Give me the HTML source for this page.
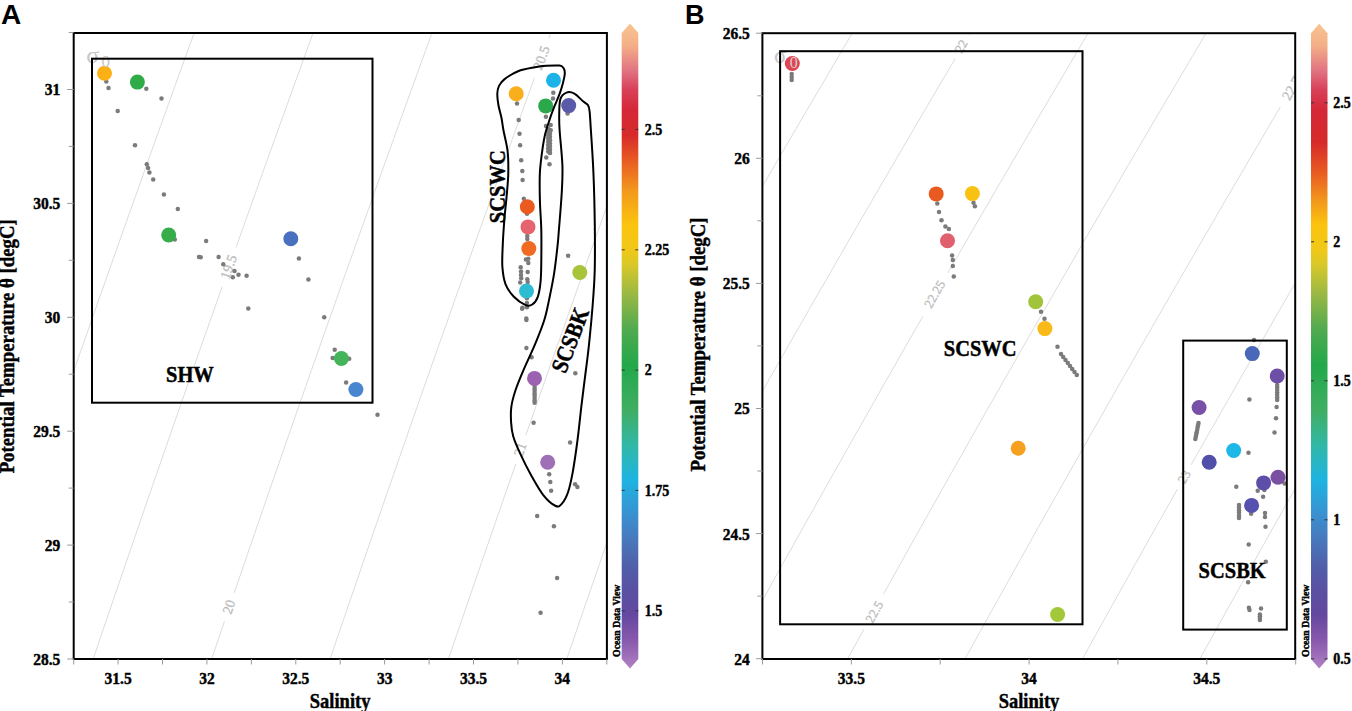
<!DOCTYPE html><html><head><meta charset="utf-8"><style>html,body{margin:0;padding:0;background:#fff;}body{width:1352px;height:711px;overflow:hidden;position:relative}svg{position:absolute;left:0;top:0}text{-webkit-font-smoothing:antialiased}</style></head><body>
<svg width="1352" height="711" viewBox="0 0 1352 711">
<defs>
<linearGradient id="gA" gradientUnits="userSpaceOnUse" x1="0" y1="23" x2="0" y2="668"><stop offset="0.0000" stop-color="#f8c490"/><stop offset="0.0341" stop-color="#f4b088"/><stop offset="0.0760" stop-color="#e07080"/><stop offset="0.1039" stop-color="#d84058"/><stop offset="0.1349" stop-color="#d42838"/><stop offset="0.1736" stop-color="#d62a2a"/><stop offset="0.2124" stop-color="#e85a22"/><stop offset="0.2620" stop-color="#f39a1c"/><stop offset="0.3132" stop-color="#fbc40e"/><stop offset="0.3519" stop-color="#f0c818"/><stop offset="0.3752" stop-color="#d8c828"/><stop offset="0.4217" stop-color="#98b844"/><stop offset="0.4760" stop-color="#50aa50"/><stop offset="0.5302" stop-color="#22a84a"/><stop offset="0.6000" stop-color="#40ae62"/><stop offset="0.6558" stop-color="#30b8a8"/><stop offset="0.7085" stop-color="#1eb4e2"/><stop offset="0.7628" stop-color="#3a90d0"/><stop offset="0.8016" stop-color="#4878bc"/><stop offset="0.8403" stop-color="#5060aa"/><stop offset="0.8791" stop-color="#5a50a2"/><stop offset="0.9178" stop-color="#6448a0"/><stop offset="0.9566" stop-color="#8858ac"/><stop offset="1.0000" stop-color="#b080c4"/></linearGradient>
<linearGradient id="gB" gradientUnits="userSpaceOnUse" x1="0" y1="23" x2="0" y2="668"><stop offset="0.0000" stop-color="#f8c490"/><stop offset="0.0341" stop-color="#f4b088"/><stop offset="0.0760" stop-color="#e07080"/><stop offset="0.1039" stop-color="#d84058"/><stop offset="0.1349" stop-color="#d42838"/><stop offset="0.1845" stop-color="#d62a2a"/><stop offset="0.2310" stop-color="#e85a22"/><stop offset="0.2775" stop-color="#f39a1c"/><stop offset="0.3132" stop-color="#fbc40e"/><stop offset="0.3519" stop-color="#f0c818"/><stop offset="0.3752" stop-color="#d8c828"/><stop offset="0.4217" stop-color="#98b844"/><stop offset="0.4760" stop-color="#50aa50"/><stop offset="0.5302" stop-color="#22a84a"/><stop offset="0.6000" stop-color="#40ae62"/><stop offset="0.6558" stop-color="#30b8a8"/><stop offset="0.7085" stop-color="#1eb4e2"/><stop offset="0.7628" stop-color="#3a90d0"/><stop offset="0.8016" stop-color="#4878bc"/><stop offset="0.8403" stop-color="#5060aa"/><stop offset="0.8791" stop-color="#5a50a2"/><stop offset="0.9178" stop-color="#6448a0"/><stop offset="0.9566" stop-color="#8858ac"/><stop offset="1.0000" stop-color="#b080c4"/></linearGradient>
<clipPath id="cA"><rect x="73.7" y="33.0" width="533.2" height="626.0"/></clipPath>
<clipPath id="cB"><rect x="762.4" y="33.2" width="532.8" height="625.8"/></clipPath>
<mask id="mA" maskUnits="userSpaceOnUse" x="0" y="0" width="1352" height="711"><rect x="0" y="0" width="1352" height="711" fill="white"/>
<rect x="207.7" y="261.0" width="42.0" height="12.0" transform="rotate(-70.5 228.7 267.0)" fill="black"/>
<rect x="214.0" y="601.0" width="30.0" height="12.0" transform="rotate(-70.5 229.0 607.0)" fill="black"/>
<rect x="520.4" y="52.0" width="42.0" height="12.0" transform="rotate(-70.5 541.4 58.0)" fill="black"/>
<rect x="505.3" y="443.5" width="30.0" height="12.0" transform="rotate(-70.5 520.3 449.5)" fill="black"/>
</mask>
<mask id="mB" maskUnits="userSpaceOnUse" x="0" y="0" width="1352" height="711"><rect x="0" y="0" width="1352" height="711" fill="white"/>
<rect x="947.1" y="40.2" width="28.0" height="12.0" transform="rotate(-60.5 961.1 46.2)" fill="black"/>
<rect x="909.5" y="288.0" width="50.0" height="12.0" transform="rotate(-60.5 934.5 294.0)" fill="black"/>
<rect x="854.3" y="605.8" width="40.0" height="12.0" transform="rotate(-60.5 874.3 611.8)" fill="black"/>
<rect x="1268.4" y="79.4" width="50.0" height="12.0" transform="rotate(-60.5 1293.4 85.4)" fill="black"/>
<rect x="1170.0" y="470.7" width="28.0" height="12.0" transform="rotate(-60.5 1184.0 476.7)" fill="black"/>
</mask>
</defs>
<g clip-path="url(#cA)"><g mask="url(#mA)" fill="none" stroke="#dcdcdc" stroke-width="1.0">
<polyline points="-159.2,704.6 -153.3,686.9 -147.3,669.3 -141.4,651.6 -135.4,633.9 -129.4,616.3 -123.4,598.6 -117.4,581.0 -111.4,563.3 -105.3,545.7 -99.3,528.0 -93.2,510.4 -87.1,492.7 -81.1,475.1 -75.0,457.4 -68.9,439.7 -62.7,422.1 -56.6,404.4 -50.5,386.8 -44.3,369.1 -38.1,351.5 -31.9,333.8 -25.8,316.2 -19.6,298.5 -13.3,280.9 -7.1,263.2 -0.9,245.5 5.4,227.9 11.6,210.2 17.9,192.6 24.2,174.9 30.5,157.3 36.8,139.6 43.1,122.0 49.5,104.3 55.8,86.7 62.2,69.0 68.5,51.3 74.9,33.7 81.3,16.0 87.7,-1.6"/>
<polyline points="-40.7,704.6 -34.8,686.9 -28.8,669.3 -22.8,651.6 -16.8,633.9 -10.8,616.3 -4.8,598.6 1.2,581.0 7.3,563.3 13.3,545.7 19.4,528.0 25.4,510.4 31.5,492.7 37.6,475.1 43.7,457.4 49.8,439.7 56.0,422.1 62.1,404.4 68.3,386.8 74.4,369.1 80.6,351.5 86.8,333.8 93.0,316.2 99.2,298.5 105.5,280.9 111.7,263.2 118.0,245.5 124.2,227.9 130.5,210.2 136.8,192.6 143.1,174.9 149.4,157.3 155.7,139.6 162.0,122.0 168.4,104.3 174.7,86.7 181.1,69.0 187.5,51.3 193.9,33.7 200.3,16.0 206.7,-1.6"/>
<polyline points="77.8,704.6 83.7,686.9 89.7,669.3 95.7,651.6 101.7,633.9 107.7,616.3 113.7,598.6 119.8,581.0 125.8,563.3 131.9,545.7 138.0,528.0 144.0,510.4 150.1,492.7 156.2,475.1 162.4,457.4 168.5,439.7 174.6,422.1 180.8,404.4 187.0,386.8 193.1,369.1 199.3,351.5 205.5,333.8 211.8,316.2 218.0,298.5 224.2,280.9 230.5,263.2 236.7,245.5 243.0,227.9 249.3,210.2 255.6,192.6 261.9,174.9 268.2,157.3 274.6,139.6 280.9,122.0 287.3,104.3 293.6,86.7 300.0,69.0 306.4,51.3 312.8,33.7 319.2,16.0 325.6,-1.6"/>
<polyline points="196.2,704.6 202.2,686.9 208.2,669.3 214.2,651.6 220.2,633.9 226.2,616.3 232.2,598.6 238.3,581.0 244.4,563.3 250.4,545.7 256.5,528.0 262.6,510.4 268.7,492.7 274.8,475.1 281.0,457.4 287.1,439.7 293.3,422.1 299.4,404.4 305.6,386.8 311.8,369.1 318.0,351.5 324.2,333.8 330.5,316.2 336.7,298.5 342.9,280.9 349.2,263.2 355.5,245.5 361.8,227.9 368.1,210.2 374.4,192.6 380.7,174.9 387.0,157.3 393.4,139.6 399.7,122.0 406.1,104.3 412.5,86.7 418.9,69.0 425.3,51.3 431.7,33.7 438.1,16.0 444.5,-1.6"/>
<polyline points="314.6,704.6 320.6,686.9 326.6,669.3 332.6,651.6 338.6,633.9 344.7,616.3 350.7,598.6 356.8,581.0 362.8,563.3 368.9,545.7 375.0,528.0 381.1,510.4 387.2,492.7 393.4,475.1 399.5,457.4 405.7,439.7 411.8,422.1 418.0,404.4 424.2,386.8 430.4,369.1 436.6,351.5 442.9,333.8 449.1,316.2 455.3,298.5 461.6,280.9 467.9,263.2 474.2,245.5 480.5,227.9 486.8,210.2 493.1,192.6 499.4,174.9 505.8,157.3 512.1,139.6 518.5,122.0 524.9,104.3 531.3,86.7 537.7,69.0 544.1,51.3 550.5,33.7 556.9,16.0 563.4,-1.6"/>
<polyline points="432.9,704.6 438.9,686.9 444.9,669.3 451.0,651.6 457.0,633.9 463.1,616.3 469.1,598.6 475.2,581.0 481.3,563.3 487.4,545.7 493.5,528.0 499.6,510.4 505.7,492.7 511.9,475.1 518.0,457.4 524.2,439.7 530.4,422.1 536.6,404.4 542.8,386.8 549.0,369.1 555.2,351.5 561.5,333.8 567.7,316.2 574.0,298.5 580.2,280.9 586.5,263.2 592.8,245.5 599.1,227.9 605.4,210.2 611.8,192.6 618.1,174.9 624.5,157.3 630.8,139.6 637.2,122.0 643.6,104.3 650.0,86.7 656.4,69.0 662.8,51.3 669.3,33.7 675.7,16.0 682.2,-1.6"/>
<polyline points="551.2,704.6 557.2,686.9 563.3,669.3 569.3,651.6 575.4,633.9 581.4,616.3 587.5,598.6 593.6,581.0 599.7,563.3 605.8,545.7 611.9,528.0 618.0,510.4 624.2,492.7 630.3,475.1 636.5,457.4 642.7,439.7 648.9,422.1 655.1,404.4 661.3,386.8 667.5,369.1 673.7,351.5 680.0,333.8 686.3,316.2 692.5,298.5 698.8,280.9 705.1,263.2 711.4,245.5 717.7,227.9 724.1,210.2 730.4,192.6 736.8,174.9 743.1,157.3 749.5,139.6 755.9,122.0 762.3,104.3 768.7,86.7 775.1,69.0 781.6,51.3 788.0,33.7 794.5,16.0 800.9,-1.6"/>
<polyline points="669.5,704.6 675.5,686.9 681.5,669.3 687.6,651.6 693.7,633.9 699.7,616.3 705.8,598.6 711.9,581.0 718.0,563.3 724.1,545.7 730.3,528.0 736.4,510.4 742.6,492.7 748.7,475.1 754.9,457.4 761.1,439.7 767.3,422.1 773.5,404.4 779.7,386.8 786.0,369.1 792.2,351.5 798.5,333.8 804.8,316.2 811.1,298.5 817.3,280.9 823.7,263.2 830.0,245.5 836.3,227.9 842.6,210.2 849.0,192.6 855.4,174.9 861.7,157.3 868.1,139.6 874.5,122.0 880.9,104.3 887.4,86.7 893.8,69.0 900.2,51.3 906.7,33.7 913.2,16.0 919.6,-1.6"/>
</g>
<text x="0" y="0" transform="translate(228.70 267.00) rotate(-70.50)" text-anchor="middle" style="font-family:'Liberation Serif',serif;font-size:14.00px;" fill="#bdbdbd" stroke="#bdbdbd" stroke-width="0.30" dominant-baseline="central">19.5</text>
<text x="0" y="0" transform="translate(229.00 607.00) rotate(-70.50)" text-anchor="middle" style="font-family:'Liberation Serif',serif;font-size:14.00px;" fill="#bdbdbd" stroke="#bdbdbd" stroke-width="0.30" dominant-baseline="central">20</text>
<text x="0" y="0" transform="translate(541.40 58.00) rotate(-70.50)" text-anchor="middle" style="font-family:'Liberation Serif',serif;font-size:14.00px;" fill="#bdbdbd" stroke="#bdbdbd" stroke-width="0.30" dominant-baseline="central">20.5</text>
<text x="0" y="0" transform="translate(520.30 449.50) rotate(-70.50)" text-anchor="middle" style="font-family:'Liberation Serif',serif;font-size:14.00px;" fill="#bdbdbd" stroke="#bdbdbd" stroke-width="0.30" dominant-baseline="central">21</text>
</g>
<g clip-path="url(#cB)"><g mask="url(#mB)" fill="none" stroke="#dcdcdc" stroke-width="1.0">
<polyline points="350.3,708.7 360.2,690.6 370.1,672.5 380.1,654.3 390.1,636.2 400.1,618.0 410.1,599.9 420.1,581.8 430.2,563.6 440.3,545.5 450.4,527.3 460.5,509.2 470.7,491.1 480.9,472.9 491.1,454.8 501.3,436.6 511.5,418.5 521.8,400.4 532.1,382.2 542.4,364.1 552.7,345.9 563.1,327.8 573.5,309.7 583.9,291.5 594.3,273.4 604.7,255.3 615.2,237.1 625.7,219.0 636.2,200.8 646.7,182.7 657.2,164.6 667.8,146.4 678.4,128.3 689.0,110.1 699.7,92.0 710.3,73.9 721.0,55.7 731.7,37.6 742.4,19.4 753.2,1.3 763.9,-16.8"/>
<polyline points="467.8,708.7 477.7,690.6 487.7,672.5 497.6,654.3 507.6,636.2 517.6,618.0 527.7,599.9 537.7,581.8 547.8,563.6 557.9,545.5 568.0,527.3 578.2,509.2 588.4,491.1 598.5,472.9 608.8,454.8 619.0,436.6 629.2,418.5 639.5,400.4 649.8,382.2 660.1,364.1 670.5,345.9 680.9,327.8 691.2,309.7 701.7,291.5 712.1,273.4 722.5,255.3 733.0,237.1 743.5,219.0 754.0,200.8 764.6,182.7 775.1,164.6 785.7,146.4 796.3,128.3 806.9,110.1 817.6,92.0 828.3,73.9 838.9,55.7 849.7,37.6 860.4,19.4 871.1,1.3 881.9,-16.8"/>
<polyline points="585.3,708.7 595.2,690.6 605.2,672.5 615.1,654.3 625.1,636.2 635.2,618.0 645.2,599.9 655.3,581.8 665.4,563.6 675.5,545.5 685.6,527.3 695.8,509.2 706.0,491.1 716.2,472.9 726.4,454.8 736.7,436.6 746.9,418.5 757.2,400.4 767.5,382.2 777.9,364.1 788.2,345.9 798.6,327.8 809.0,309.7 819.4,291.5 829.9,273.4 840.3,255.3 850.8,237.1 861.3,219.0 871.9,200.8 882.4,182.7 893.0,164.6 903.6,146.4 914.2,128.3 924.8,110.1 935.5,92.0 946.2,73.9 956.9,55.7 967.6,37.6 978.4,19.4 989.1,1.3 999.9,-16.8"/>
<polyline points="702.7,708.7 712.7,690.6 722.6,672.5 732.6,654.3 742.7,636.2 752.7,618.0 762.8,599.9 772.8,581.8 782.9,563.6 793.1,545.5 803.2,527.3 813.4,509.2 823.6,491.1 833.8,472.9 844.1,454.8 854.3,436.6 864.6,418.5 874.9,400.4 885.2,382.2 895.6,364.1 905.9,345.9 916.3,327.8 926.7,309.7 937.2,291.5 947.6,273.4 958.1,255.3 968.6,237.1 979.1,219.0 989.7,200.8 1000.2,182.7 1010.8,164.6 1021.4,146.4 1032.1,128.3 1042.7,110.1 1053.4,92.0 1064.1,73.9 1074.8,55.7 1085.5,37.6 1096.3,19.4 1107.1,1.3 1117.9,-16.8"/>
<polyline points="820.1,708.7 830.1,690.6 840.1,672.5 850.1,654.3 860.1,636.2 870.2,618.0 880.3,599.9 890.4,581.8 900.5,563.6 910.6,545.5 920.8,527.3 931.0,509.2 941.2,491.1 951.4,472.9 961.7,454.8 971.9,436.6 982.2,418.5 992.6,400.4 1002.9,382.2 1013.3,364.1 1023.6,345.9 1034.0,327.8 1044.5,309.7 1054.9,291.5 1065.4,273.4 1075.9,255.3 1086.4,237.1 1096.9,219.0 1107.5,200.8 1118.0,182.7 1128.6,164.6 1139.3,146.4 1149.9,128.3 1160.6,110.1 1171.3,92.0 1182.0,73.9 1192.7,55.7 1203.4,37.6 1214.2,19.4 1225.0,1.3 1235.8,-16.8"/>
<polyline points="937.5,708.7 947.5,690.6 957.5,672.5 967.6,654.3 977.6,636.2 987.7,618.0 997.8,599.9 1007.9,581.8 1018.0,563.6 1028.2,545.5 1038.3,527.3 1048.5,509.2 1058.8,491.1 1069.0,472.9 1079.3,454.8 1089.5,436.6 1099.9,418.5 1110.2,400.4 1120.5,382.2 1130.9,364.1 1141.3,345.9 1151.7,327.8 1162.2,309.7 1172.6,291.5 1183.1,273.4 1193.6,255.3 1204.1,237.1 1214.7,219.0 1225.2,200.8 1235.8,182.7 1246.4,164.6 1257.1,146.4 1267.7,128.3 1278.4,110.1 1289.1,92.0 1299.8,73.9 1310.6,55.7 1321.3,37.6 1332.1,19.4 1342.9,1.3 1353.7,-16.8"/>
<polyline points="1054.9,708.7 1064.9,690.6 1074.9,672.5 1085.0,654.3 1095.0,636.2 1105.1,618.0 1115.2,599.9 1125.3,581.8 1135.5,563.6 1145.7,545.5 1155.9,527.3 1166.1,509.2 1176.3,491.1 1186.6,472.9 1196.8,454.8 1207.1,436.6 1217.5,418.5 1227.8,400.4 1238.2,382.2 1248.5,364.1 1259.0,345.9 1269.4,327.8 1279.8,309.7 1290.3,291.5 1300.8,273.4 1311.3,255.3 1321.9,237.1 1332.4,219.0 1343.0,200.8 1353.6,182.7 1364.2,164.6 1374.9,146.4 1385.5,128.3 1396.2,110.1 1406.9,92.0 1417.6,73.9 1428.4,55.7 1439.2,37.6 1450.0,19.4 1460.8,1.3 1471.6,-16.8"/>
<polyline points="1172.3,708.7 1182.3,690.6 1192.3,672.5 1202.4,654.3 1212.5,636.2 1222.6,618.0 1232.7,599.9 1242.8,581.8 1253.0,563.6 1263.1,545.5 1273.3,527.3 1283.6,509.2 1293.8,491.1 1304.1,472.9 1314.4,454.8 1324.7,436.6 1335.0,418.5 1345.4,400.4 1355.8,382.2 1366.2,364.1 1376.6,345.9 1387.0,327.8 1397.5,309.7 1408.0,291.5 1418.5,273.4 1429.0,255.3 1439.6,237.1 1450.1,219.0 1460.7,200.8 1471.3,182.7 1482.0,164.6 1492.6,146.4 1503.3,128.3 1514.0,110.1 1524.7,92.0 1535.5,73.9 1546.2,55.7 1557.0,37.6 1567.8,19.4 1578.6,1.3 1589.5,-16.8"/>
<polyline points="1289.6,708.7 1299.7,690.6 1309.7,672.5 1319.8,654.3 1329.9,636.2 1340.0,618.0 1350.1,599.9 1360.2,581.8 1370.4,563.6 1380.6,545.5 1390.8,527.3 1401.1,509.2 1411.3,491.1 1421.6,472.9 1431.9,454.8 1442.2,436.6 1452.6,418.5 1462.9,400.4 1473.3,382.2 1483.7,364.1 1494.2,345.9 1504.6,327.8 1515.1,309.7 1525.6,291.5 1536.1,273.4 1546.7,255.3 1557.2,237.1 1567.8,219.0 1578.4,200.8 1589.0,182.7 1599.7,164.6 1610.4,146.4 1621.1,128.3 1631.8,110.1 1642.5,92.0 1653.2,73.9 1664.0,55.7 1674.8,37.6 1685.6,19.4 1696.5,1.3 1707.3,-16.8"/>
</g>
<text x="0" y="0" transform="translate(961.10 46.20) rotate(-60.50)" text-anchor="middle" style="font-family:'Liberation Serif',serif;font-size:13.00px;" fill="#bdbdbd" stroke="#bdbdbd" stroke-width="0.30" dominant-baseline="central">22</text>
<text x="0" y="0" transform="translate(934.50 294.00) rotate(-60.50)" text-anchor="middle" style="font-family:'Liberation Serif',serif;font-size:13.00px;" fill="#bdbdbd" stroke="#bdbdbd" stroke-width="0.30" dominant-baseline="central">22.25</text>
<text x="0" y="0" transform="translate(874.30 611.80) rotate(-60.50)" text-anchor="middle" style="font-family:'Liberation Serif',serif;font-size:13.00px;" fill="#bdbdbd" stroke="#bdbdbd" stroke-width="0.30" dominant-baseline="central">22.5</text>
<text x="0" y="0" transform="translate(1293.40 85.40) rotate(-60.50)" text-anchor="middle" style="font-family:'Liberation Serif',serif;font-size:14.00px;" fill="#bdbdbd" stroke="#bdbdbd" stroke-width="0.30" dominant-baseline="central">22.75</text>
<text x="0" y="0" transform="translate(1184.00 476.70) rotate(-60.50)" text-anchor="middle" style="font-family:'Liberation Serif',serif;font-size:13.00px;" fill="#bdbdbd" stroke="#bdbdbd" stroke-width="0.30" dominant-baseline="central">23</text>
</g>
<text x="0" y="0" transform="translate(86.30 62.50)" text-anchor="start" style="font-family:'Liberation Serif',serif;font-size:24.00px;" fill="#c6c6c6">σ</text>
<text x="0" y="0" transform="translate(774.00 62.50)" text-anchor="start" style="font-family:'Liberation Serif',serif;font-size:23.00px;" fill="#c6c6c6">σ</text>
<g>
<circle cx="106.3" cy="81.4" r="2.25" fill="#7b7b7b"/>
<circle cx="108.5" cy="87.9" r="2.25" fill="#7b7b7b"/>
<circle cx="146.3" cy="88.8" r="2.25" fill="#7b7b7b"/>
<circle cx="161.5" cy="98.5" r="2.25" fill="#7b7b7b"/>
<circle cx="117.7" cy="111.1" r="2.25" fill="#7b7b7b"/>
<circle cx="135.0" cy="145.3" r="2.25" fill="#7b7b7b"/>
<circle cx="146.8" cy="164.3" r="2.25" fill="#7b7b7b"/>
<circle cx="148.1" cy="168.1" r="2.25" fill="#7b7b7b"/>
<circle cx="149.4" cy="172.4" r="2.25" fill="#7b7b7b"/>
<circle cx="153.2" cy="179.5" r="2.25" fill="#7b7b7b"/>
<circle cx="163.9" cy="194.5" r="2.25" fill="#7b7b7b"/>
<circle cx="177.8" cy="209.0" r="2.25" fill="#7b7b7b"/>
<circle cx="174.8" cy="239.4" r="2.25" fill="#7b7b7b"/>
<circle cx="206.1" cy="241.1" r="2.25" fill="#7b7b7b"/>
<circle cx="199.0" cy="257.0" r="2.25" fill="#7b7b7b"/>
<circle cx="200.7" cy="257.3" r="2.25" fill="#7b7b7b"/>
<circle cx="218.6" cy="257.0" r="2.25" fill="#7b7b7b"/>
<circle cx="223.3" cy="264.3" r="2.25" fill="#7b7b7b"/>
<circle cx="234.5" cy="271.0" r="2.25" fill="#7b7b7b"/>
<circle cx="238.5" cy="274.8" r="2.25" fill="#7b7b7b"/>
<circle cx="232.8" cy="277.2" r="2.25" fill="#7b7b7b"/>
<circle cx="246.6" cy="275.8" r="2.25" fill="#7b7b7b"/>
<circle cx="248.3" cy="308.5" r="2.25" fill="#7b7b7b"/>
<circle cx="298.9" cy="258.6" r="2.25" fill="#7b7b7b"/>
<circle cx="308.4" cy="279.5" r="2.25" fill="#7b7b7b"/>
<circle cx="324.2" cy="317.3" r="2.25" fill="#7b7b7b"/>
<circle cx="334.7" cy="349.7" r="2.25" fill="#7b7b7b"/>
<circle cx="332.6" cy="358.1" r="2.25" fill="#7b7b7b"/>
<circle cx="349.2" cy="358.8" r="2.25" fill="#7b7b7b"/>
<circle cx="346.1" cy="382.4" r="2.25" fill="#7b7b7b"/>
<circle cx="377.5" cy="414.7" r="2.25" fill="#7b7b7b"/>
<circle cx="517.0" cy="103.6" r="2.25" fill="#7b7b7b"/>
<circle cx="518.7" cy="120.0" r="2.25" fill="#7b7b7b"/>
<circle cx="519.5" cy="133.8" r="2.25" fill="#7b7b7b"/>
<circle cx="520.1" cy="145.2" r="2.25" fill="#7b7b7b"/>
<circle cx="521.2" cy="160.3" r="2.25" fill="#7b7b7b"/>
<circle cx="522.3" cy="171.1" r="2.25" fill="#7b7b7b"/>
<circle cx="522.6" cy="180.0" r="2.25" fill="#7b7b7b"/>
<circle cx="523.8" cy="198.7" r="2.25" fill="#7b7b7b"/>
<circle cx="553.3" cy="92.8" r="2.25" fill="#7b7b7b"/>
<circle cx="553.0" cy="98.5" r="2.25" fill="#7b7b7b"/>
<circle cx="545.9" cy="116.8" r="2.25" fill="#7b7b7b"/>
<circle cx="546.0" cy="126.1" r="2.25" fill="#7b7b7b"/>
<circle cx="550.7" cy="125.0" r="2.25" fill="#7b7b7b"/>
<circle cx="550.7" cy="130.3" r="2.25" fill="#7b7b7b"/>
<circle cx="549.5" cy="164.2" r="2.25" fill="#7b7b7b"/>
<circle cx="546.3" cy="157.4" r="2.25" fill="#7b7b7b"/>
<circle cx="549.8" cy="152.8" r="2.25" fill="#7b7b7b"/>
<circle cx="567.6" cy="113.4" r="2.25" fill="#7b7b7b"/>
<circle cx="527.0" cy="213.8" r="2.25" fill="#7b7b7b"/>
<circle cx="527.3" cy="236.0" r="2.25" fill="#7b7b7b"/>
<circle cx="527.3" cy="239.1" r="2.25" fill="#7b7b7b"/>
<circle cx="525.9" cy="259.5" r="2.25" fill="#7b7b7b"/>
<circle cx="528.3" cy="258.8" r="2.25" fill="#7b7b7b"/>
<circle cx="528.3" cy="263.0" r="2.25" fill="#7b7b7b"/>
<circle cx="520.7" cy="267.2" r="2.25" fill="#7b7b7b"/>
<circle cx="521.0" cy="271.4" r="2.25" fill="#7b7b7b"/>
<circle cx="521.0" cy="275.0" r="2.25" fill="#7b7b7b"/>
<circle cx="521.2" cy="278.2" r="2.25" fill="#7b7b7b"/>
<circle cx="520.2" cy="282.4" r="2.25" fill="#7b7b7b"/>
<circle cx="527.7" cy="272.1" r="2.25" fill="#7b7b7b"/>
<circle cx="527.3" cy="279.2" r="2.25" fill="#7b7b7b"/>
<circle cx="527.7" cy="282.0" r="2.25" fill="#7b7b7b"/>
<circle cx="526.9" cy="298.2" r="2.25" fill="#7b7b7b"/>
<circle cx="526.9" cy="303.1" r="2.25" fill="#7b7b7b"/>
<circle cx="522.1" cy="308.7" r="2.25" fill="#7b7b7b"/>
<circle cx="526.9" cy="307.3" r="2.25" fill="#7b7b7b"/>
<circle cx="526.3" cy="318.6" r="2.25" fill="#7b7b7b"/>
<circle cx="522.5" cy="307.7" r="2.25" fill="#7b7b7b"/>
<circle cx="568.1" cy="255.7" r="2.25" fill="#7b7b7b"/>
<circle cx="526.4" cy="320.0" r="2.25" fill="#7b7b7b"/>
<circle cx="526.4" cy="348.1" r="2.25" fill="#7b7b7b"/>
<circle cx="531.6" cy="357.3" r="2.25" fill="#7b7b7b"/>
<circle cx="575.3" cy="373.2" r="2.25" fill="#7b7b7b"/>
<circle cx="533.6" cy="422.7" r="2.25" fill="#7b7b7b"/>
<circle cx="570.1" cy="442.5" r="2.25" fill="#7b7b7b"/>
<circle cx="549.2" cy="474.2" r="2.25" fill="#7b7b7b"/>
<circle cx="550.3" cy="482.0" r="2.25" fill="#7b7b7b"/>
<circle cx="551.1" cy="490.8" r="2.25" fill="#7b7b7b"/>
<circle cx="575.1" cy="484.3" r="2.25" fill="#7b7b7b"/>
<circle cx="577.4" cy="487.1" r="2.25" fill="#7b7b7b"/>
<circle cx="537.2" cy="516.0" r="2.25" fill="#7b7b7b"/>
<circle cx="553.9" cy="526.3" r="2.25" fill="#7b7b7b"/>
<circle cx="557.1" cy="578.0" r="2.25" fill="#7b7b7b"/>
<circle cx="540.6" cy="612.8" r="2.25" fill="#7b7b7b"/>
<circle cx="548.2" cy="129.0" r="2.25" fill="#7b7b7b"/>
<circle cx="550.0" cy="130.6" r="2.25" fill="#7b7b7b"/>
<circle cx="548.2" cy="132.2" r="2.25" fill="#7b7b7b"/>
<circle cx="550.0" cy="133.8" r="2.25" fill="#7b7b7b"/>
<circle cx="548.2" cy="135.4" r="2.25" fill="#7b7b7b"/>
<circle cx="550.0" cy="137.0" r="2.25" fill="#7b7b7b"/>
<circle cx="548.2" cy="138.6" r="2.25" fill="#7b7b7b"/>
<circle cx="550.0" cy="140.2" r="2.25" fill="#7b7b7b"/>
<circle cx="548.2" cy="141.8" r="2.25" fill="#7b7b7b"/>
<circle cx="550.0" cy="143.4" r="2.25" fill="#7b7b7b"/>
<circle cx="548.2" cy="145.0" r="2.25" fill="#7b7b7b"/>
<circle cx="550.0" cy="146.6" r="2.25" fill="#7b7b7b"/>
<circle cx="548.2" cy="148.2" r="2.25" fill="#7b7b7b"/>
<circle cx="550.0" cy="149.8" r="2.25" fill="#7b7b7b"/>
<circle cx="548.2" cy="151.4" r="2.25" fill="#7b7b7b"/>
<circle cx="550.0" cy="153.0" r="2.25" fill="#7b7b7b"/>
<circle cx="534.6" cy="386.0" r="2.25" fill="#7b7b7b"/>
<circle cx="534.6" cy="388.4" r="2.25" fill="#7b7b7b"/>
<circle cx="534.6" cy="390.8" r="2.25" fill="#7b7b7b"/>
<circle cx="534.6" cy="393.2" r="2.25" fill="#7b7b7b"/>
<circle cx="534.6" cy="395.6" r="2.25" fill="#7b7b7b"/>
<circle cx="534.6" cy="398.0" r="2.25" fill="#7b7b7b"/>
<circle cx="534.6" cy="400.4" r="2.25" fill="#7b7b7b"/>
<circle cx="534.6" cy="402.8" r="2.25" fill="#7b7b7b"/>
<circle cx="791.7" cy="74.0" r="2.25" fill="#7b7b7b"/>
<circle cx="791.7" cy="77.0" r="2.25" fill="#7b7b7b"/>
<circle cx="791.7" cy="80.0" r="2.25" fill="#7b7b7b"/>
<circle cx="937.3" cy="203.4" r="2.25" fill="#7b7b7b"/>
<circle cx="939.0" cy="211.9" r="2.25" fill="#7b7b7b"/>
<circle cx="941.5" cy="220.3" r="2.25" fill="#7b7b7b"/>
<circle cx="945.4" cy="226.6" r="2.25" fill="#7b7b7b"/>
<circle cx="948.9" cy="229.1" r="2.25" fill="#7b7b7b"/>
<circle cx="952.1" cy="255.4" r="2.25" fill="#7b7b7b"/>
<circle cx="952.8" cy="260.0" r="2.25" fill="#7b7b7b"/>
<circle cx="952.8" cy="266.0" r="2.25" fill="#7b7b7b"/>
<circle cx="953.8" cy="276.5" r="2.25" fill="#7b7b7b"/>
<circle cx="973.5" cy="202.7" r="2.25" fill="#7b7b7b"/>
<circle cx="974.9" cy="206.2" r="2.25" fill="#7b7b7b"/>
<circle cx="1041.0" cy="311.7" r="2.25" fill="#7b7b7b"/>
<circle cx="1044.5" cy="318.7" r="2.25" fill="#7b7b7b"/>
<circle cx="1057.5" cy="346.8" r="2.25" fill="#7b7b7b"/>
<circle cx="1254.0" cy="340.1" r="2.25" fill="#7b7b7b"/>
<circle cx="1249.4" cy="399.6" r="2.25" fill="#7b7b7b"/>
<circle cx="1276.6" cy="407.0" r="2.25" fill="#7b7b7b"/>
<circle cx="1276.0" cy="418.2" r="2.25" fill="#7b7b7b"/>
<circle cx="1274.5" cy="432.4" r="2.25" fill="#7b7b7b"/>
<circle cx="1248.5" cy="452.8" r="2.25" fill="#7b7b7b"/>
<circle cx="1236.3" cy="486.7" r="2.25" fill="#7b7b7b"/>
<circle cx="1257.7" cy="490.7" r="2.25" fill="#7b7b7b"/>
<circle cx="1264.4" cy="490.1" r="2.25" fill="#7b7b7b"/>
<circle cx="1263.1" cy="496.8" r="2.25" fill="#7b7b7b"/>
<circle cx="1251.1" cy="513.7" r="2.25" fill="#7b7b7b"/>
<circle cx="1265.0" cy="512.9" r="2.25" fill="#7b7b7b"/>
<circle cx="1265.0" cy="516.9" r="2.25" fill="#7b7b7b"/>
<circle cx="1265.5" cy="526.8" r="2.25" fill="#7b7b7b"/>
<circle cx="1248.7" cy="544.4" r="2.25" fill="#7b7b7b"/>
<circle cx="1265.8" cy="561.8" r="2.25" fill="#7b7b7b"/>
<circle cx="1248.1" cy="582.2" r="2.25" fill="#7b7b7b"/>
<circle cx="1248.9" cy="607.8" r="2.25" fill="#7b7b7b"/>
<circle cx="1249.5" cy="610.0" r="2.25" fill="#7b7b7b"/>
<circle cx="1261.0" cy="608.4" r="2.25" fill="#7b7b7b"/>
<circle cx="1284.5" cy="483.4" r="2.25" fill="#7b7b7b"/>
<circle cx="1061.0" cy="353.9" r="2.25" fill="#7b7b7b"/>
<circle cx="1063.2" cy="356.9" r="2.25" fill="#7b7b7b"/>
<circle cx="1065.5" cy="359.9" r="2.25" fill="#7b7b7b"/>
<circle cx="1067.8" cy="362.9" r="2.25" fill="#7b7b7b"/>
<circle cx="1070.0" cy="365.9" r="2.25" fill="#7b7b7b"/>
<circle cx="1072.2" cy="368.9" r="2.25" fill="#7b7b7b"/>
<circle cx="1074.5" cy="371.9" r="2.25" fill="#7b7b7b"/>
<circle cx="1076.8" cy="374.9" r="2.25" fill="#7b7b7b"/>
<circle cx="1277.2" cy="385.0" r="2.25" fill="#7b7b7b"/>
<circle cx="1277.2" cy="387.5" r="2.25" fill="#7b7b7b"/>
<circle cx="1277.2" cy="390.0" r="2.25" fill="#7b7b7b"/>
<circle cx="1277.2" cy="392.5" r="2.25" fill="#7b7b7b"/>
<circle cx="1277.2" cy="395.0" r="2.25" fill="#7b7b7b"/>
<circle cx="1277.2" cy="397.5" r="2.25" fill="#7b7b7b"/>
<circle cx="1277.2" cy="400.0" r="2.25" fill="#7b7b7b"/>
<circle cx="1198.5" cy="423.0" r="2.25" fill="#7b7b7b"/>
<circle cx="1198.0" cy="425.3" r="2.25" fill="#7b7b7b"/>
<circle cx="1197.6" cy="427.6" r="2.25" fill="#7b7b7b"/>
<circle cx="1197.2" cy="429.9" r="2.25" fill="#7b7b7b"/>
<circle cx="1196.7" cy="432.2" r="2.25" fill="#7b7b7b"/>
<circle cx="1196.2" cy="434.5" r="2.25" fill="#7b7b7b"/>
<circle cx="1195.8" cy="436.8" r="2.25" fill="#7b7b7b"/>
<circle cx="1195.3" cy="439.1" r="2.25" fill="#7b7b7b"/>
<circle cx="1239.0" cy="505.0" r="2.25" fill="#7b7b7b"/>
<circle cx="1239.0" cy="507.6" r="2.25" fill="#7b7b7b"/>
<circle cx="1239.0" cy="510.2" r="2.25" fill="#7b7b7b"/>
<circle cx="1239.0" cy="512.8" r="2.25" fill="#7b7b7b"/>
<circle cx="1239.0" cy="515.4" r="2.25" fill="#7b7b7b"/>
<circle cx="1239.0" cy="518.0" r="2.25" fill="#7b7b7b"/>
<circle cx="1259.9" cy="614.5" r="2.25" fill="#7b7b7b"/>
<circle cx="1259.9" cy="616.3" r="2.25" fill="#7b7b7b"/>
<circle cx="1259.9" cy="618.1" r="2.25" fill="#7b7b7b"/>
<circle cx="1259.9" cy="619.9" r="2.25" fill="#7b7b7b"/>
</g>
<circle cx="104.5" cy="73.2" r="7.5" fill="#fbb116"/>
<circle cx="137.4" cy="82.1" r="7.5" fill="#2fac48"/>
<circle cx="168.7" cy="235.0" r="7.5" fill="#37ac4a"/>
<circle cx="290.8" cy="238.7" r="7.5" fill="#4a70c0"/>
<circle cx="341.4" cy="358.5" r="7.5" fill="#44b45a"/>
<circle cx="355.9" cy="389.5" r="7.5" fill="#4a86d0"/>
<circle cx="516.2" cy="93.7" r="7.5" fill="#f9ae1c"/>
<circle cx="553.5" cy="80.3" r="7.5" fill="#1cb4e8"/>
<circle cx="545.7" cy="105.9" r="7.5" fill="#2aa84a"/>
<circle cx="568.7" cy="105.6" r="7.5" fill="#5a5aaa"/>
<circle cx="527.3" cy="206.7" r="7.5" fill="#eb5a1e"/>
<circle cx="528.0" cy="226.9" r="7.5" fill="#e6646e"/>
<circle cx="528.8" cy="248.6" r="7.5" fill="#f06a22"/>
<circle cx="526.5" cy="291.0" r="7.5" fill="#2ebcd2"/>
<circle cx="579.8" cy="272.5" r="7.5" fill="#a8c43a"/>
<circle cx="534.5" cy="378.4" r="7.5" fill="#9c62b2"/>
<circle cx="547.7" cy="462.3" r="7.5" fill="#a070b6"/>
<circle cx="792.3" cy="63.5" r="7.5" fill="#e04450"/>
<circle cx="936.2" cy="193.9" r="7.5" fill="#e85a20"/>
<circle cx="972.4" cy="193.6" r="7.5" fill="#f9c213"/>
<circle cx="947.5" cy="240.7" r="7.5" fill="#e0606e"/>
<circle cx="1035.7" cy="301.8" r="7.5" fill="#a2c43a"/>
<circle cx="1044.9" cy="328.6" r="7.5" fill="#f9b918"/>
<circle cx="1018.2" cy="448.2" r="7.5" fill="#f6a020"/>
<circle cx="1057.6" cy="614.5" r="7.5" fill="#a2c83a"/>
<circle cx="1252.3" cy="353.6" r="7.5" fill="#4a68b8"/>
<circle cx="1277.2" cy="376.0" r="7.5" fill="#6e4fa6"/>
<circle cx="1199.1" cy="407.5" r="7.5" fill="#7850a8"/>
<circle cx="1233.7" cy="450.5" r="7.5" fill="#1eb8e8"/>
<circle cx="1209.2" cy="462.3" r="7.5" fill="#5050a8"/>
<circle cx="1278.0" cy="477.3" r="7.5" fill="#7a50a2"/>
<circle cx="1263.6" cy="482.9" r="7.5" fill="#5e4ea8"/>
<circle cx="1251.6" cy="505.4" r="7.5" fill="#5650ae"/>
<text x="0" y="0" transform="translate(101.50 67.20)" text-anchor="start" style="font-family:'Liberation Serif',serif;font-size:17.00px;" fill="#c6c6c6">0</text>
<text x="0" y="0" transform="translate(789.80 67.50)" text-anchor="start" style="font-family:'Liberation Serif',serif;font-size:16.00px;" fill="#d0d0d0">0</text>
<g fill="none" stroke="#000" stroke-width="2">
<rect x="92" y="58.7" width="280.5" height="344"/>
<rect x="780.1" y="51.2" width="302.4" height="573.1"/>
<rect x="1183.2" y="340.6" width="103.6" height="289"/>
</g>
<path d="M497.3,93.7 C497.4,90.5 497.8,88.3 499.0,85.9 C500.2,83.5 501.4,81.5 504.6,79.1 C507.8,76.6 513.0,73.2 518.1,71.2 C523.2,69.2 530.3,68.2 535.0,67.3 C539.7,66.4 542.1,66.1 546.2,65.8 C550.3,65.5 556.8,65.2 559.7,65.6 C562.6,66.0 562.9,67.1 563.7,68.4 C564.6,69.7 564.9,71.2 564.8,73.5 C564.7,75.8 564.0,79.1 563.1,82.5 C562.2,85.9 561.2,89.6 559.7,93.7 C558.2,97.8 555.8,102.9 554.1,107.2 C552.4,111.5 551.1,115.1 549.6,119.6 C548.1,124.1 546.2,129.6 545.1,134.2 C544.0,138.8 543.7,140.6 542.8,146.9 C541.9,153.2 540.4,163.3 539.9,172.2 C539.4,181.1 539.7,190.7 539.9,200.3 C540.1,209.9 541.1,220.0 541.3,230.0 C541.5,240.0 541.4,251.6 541.3,260.2 C541.2,268.8 541.2,275.2 540.6,281.3 C540.0,287.4 539.2,292.9 537.8,296.8 C536.4,300.7 534.3,303.1 532.2,304.5 C530.1,305.9 528.2,306.2 525.2,304.9 C522.2,303.6 517.2,300.3 513.9,296.8 C510.6,293.3 507.4,289.0 505.5,284.1 C503.6,279.2 502.9,273.5 502.4,267.2 C501.9,260.9 502.5,252.3 502.7,246.1 C502.9,239.9 503.2,235.3 503.6,230.0 C504.0,224.7 504.2,220.5 504.8,214.4 C505.4,208.3 506.3,200.3 506.9,193.3 C507.5,186.3 508.2,179.2 508.3,172.2 C508.4,165.2 508.4,158.1 507.6,151.1 C506.8,144.1 504.4,135.5 503.4,130.0 C502.4,124.5 502.3,122.2 501.5,118.0 C500.7,113.8 499.1,109.0 498.4,105.0 C497.7,101.0 497.2,96.9 497.3,93.7Z" fill="none" stroke="#000" stroke-width="2"/>
<path d="M560.3,99.4 C561.5,95.5 564.1,93.5 566.5,92.6 C568.9,91.6 571.6,92.2 574.4,93.7 C577.2,95.2 581.1,99.7 583.4,101.6 C585.6,103.5 586.9,103.5 587.9,105.0 C588.9,106.5 589.0,106.8 589.5,110.6 C590.0,114.3 590.1,117.2 590.7,127.5 C591.4,137.8 592.7,155.9 593.4,172.2 C594.1,188.4 594.6,209.2 594.8,225.0 C595.0,240.8 595.0,255.5 594.8,267.2 C594.6,278.9 594.0,286.5 593.4,295.3 C592.8,304.1 592.2,311.2 591.4,320.0 C590.6,328.8 589.6,338.7 588.6,348.1 C587.6,357.5 586.3,366.9 585.1,376.3 C583.9,385.7 582.9,393.6 581.6,404.4 C580.3,415.2 578.9,429.8 577.4,441.0 C575.9,452.2 574.3,463.4 572.8,471.9 C571.2,480.4 569.9,486.7 568.1,492.0 C566.3,497.3 564.0,501.4 561.9,503.7 C559.8,506.0 558.8,507.4 555.7,506.0 C552.6,504.6 547.4,500.3 543.3,495.1 C539.2,489.9 534.9,482.0 531.0,475.0 C527.1,468.0 523.1,459.8 520.1,453.3 C517.1,446.9 514.7,441.5 513.2,436.3 C511.7,431.1 511.4,427.2 511.1,422.4 C510.8,417.5 510.6,412.5 511.3,407.2 C512.0,401.9 513.4,396.6 515.5,390.3 C517.6,384.0 520.6,376.9 523.9,369.2 C527.2,361.5 531.8,352.1 535.2,343.9 C538.6,335.7 542.0,327.4 544.3,320.0 C546.6,312.6 547.5,307.2 549.1,299.6 C550.7,292.0 552.6,283.1 554.0,274.2 C555.4,265.3 556.7,253.5 557.5,246.1 C558.3,238.7 558.2,238.8 558.9,230.0 C559.6,221.2 561.1,204.1 561.7,193.3 C562.3,182.5 562.8,175.8 562.4,165.2 C562.0,154.6 560.1,138.2 559.6,130.0 C559.1,121.8 559.1,121.3 559.2,116.2 C559.3,111.1 559.1,103.3 560.3,99.4Z" fill="none" stroke="#000" stroke-width="2"/>
<rect x="73.7" y="33.0" width="533.2" height="626.0" fill="none" stroke="#000" stroke-width="2"/>
<rect x="762.4" y="33.2" width="532.8" height="625.8" fill="none" stroke="#000" stroke-width="2"/>
<path d="M67.2,659.0H73.7M68.7,602.0H73.7M67.2,545.1H73.7M68.7,488.1H73.7M67.2,431.2H73.7M68.7,374.2H73.7M67.2,317.3H73.7M68.7,260.3H73.7M67.2,203.4H73.7M68.7,146.4H73.7M67.2,89.5H73.7M68.7,32.5H73.7M73.7,659.0V664.5M118.1,659.0V664.5M162.5,659.0V664.5M206.9,659.0V664.5M251.4,659.0V664.5M295.8,659.0V664.5M340.2,659.0V664.5M384.6,659.0V664.5M429.1,659.0V664.5M473.5,659.0V664.5M517.9,659.0V664.5M562.4,659.0V664.5M606.8,659.0V664.5M755.9,658.7H762.4M757.4,596.1H762.4M755.9,533.6H762.4M757.4,471.0H762.4M755.9,408.5H762.4M757.4,345.9H762.4M755.9,283.4H762.4M757.4,220.8H762.4M755.9,158.3H762.4M757.4,95.8H762.4M755.9,33.2H762.4M762.5,659.0V664.5M851.4,659.0V664.5M940.2,659.0V664.5M1029.1,659.0V664.5M1117.9,659.0V664.5M1206.8,659.0V664.5M1295.7,659.0V664.5" stroke="#9a9a9a" stroke-width="1" fill="none"/>
<text x="0" y="0" transform="translate(60.30 664.90) scale(1 1.130)" text-anchor="end" style="font-family:'Liberation Serif',serif;font-size:15.50px;font-weight:bold;" fill="#000" stroke="#000" stroke-width="0.40">28.5</text>
<text x="0" y="0" transform="translate(60.30 551.00) scale(1 1.130)" text-anchor="end" style="font-family:'Liberation Serif',serif;font-size:15.50px;font-weight:bold;" fill="#000" stroke="#000" stroke-width="0.40">29</text>
<text x="0" y="0" transform="translate(60.30 437.10) scale(1 1.130)" text-anchor="end" style="font-family:'Liberation Serif',serif;font-size:15.50px;font-weight:bold;" fill="#000" stroke="#000" stroke-width="0.40">29.5</text>
<text x="0" y="0" transform="translate(60.30 323.20) scale(1 1.130)" text-anchor="end" style="font-family:'Liberation Serif',serif;font-size:15.50px;font-weight:bold;" fill="#000" stroke="#000" stroke-width="0.40">30</text>
<text x="0" y="0" transform="translate(60.30 209.30) scale(1 1.130)" text-anchor="end" style="font-family:'Liberation Serif',serif;font-size:15.50px;font-weight:bold;" fill="#000" stroke="#000" stroke-width="0.40">30.5</text>
<text x="0" y="0" transform="translate(60.30 95.40) scale(1 1.130)" text-anchor="end" style="font-family:'Liberation Serif',serif;font-size:15.50px;font-weight:bold;" fill="#000" stroke="#000" stroke-width="0.40">31</text>
<text x="0" y="0" transform="translate(118.10 684.20) scale(1 1.130)" text-anchor="middle" style="font-family:'Liberation Serif',serif;font-size:15.50px;font-weight:bold;" fill="#000" stroke="#000" stroke-width="0.40">31.5</text>
<text x="0" y="0" transform="translate(206.95 684.20) scale(1 1.130)" text-anchor="middle" style="font-family:'Liberation Serif',serif;font-size:15.50px;font-weight:bold;" fill="#000" stroke="#000" stroke-width="0.40">32</text>
<text x="0" y="0" transform="translate(295.80 684.20) scale(1 1.130)" text-anchor="middle" style="font-family:'Liberation Serif',serif;font-size:15.50px;font-weight:bold;" fill="#000" stroke="#000" stroke-width="0.40">32.5</text>
<text x="0" y="0" transform="translate(384.65 684.20) scale(1 1.130)" text-anchor="middle" style="font-family:'Liberation Serif',serif;font-size:15.50px;font-weight:bold;" fill="#000" stroke="#000" stroke-width="0.40">33</text>
<text x="0" y="0" transform="translate(473.50 684.20) scale(1 1.130)" text-anchor="middle" style="font-family:'Liberation Serif',serif;font-size:15.50px;font-weight:bold;" fill="#000" stroke="#000" stroke-width="0.40">33.5</text>
<text x="0" y="0" transform="translate(562.35 684.20) scale(1 1.130)" text-anchor="middle" style="font-family:'Liberation Serif',serif;font-size:15.50px;font-weight:bold;" fill="#000" stroke="#000" stroke-width="0.40">34</text>
<text x="0" y="0" transform="translate(749.80 664.60) scale(1 1.130)" text-anchor="end" style="font-family:'Liberation Serif',serif;font-size:15.50px;font-weight:bold;" fill="#000" stroke="#000" stroke-width="0.40">24</text>
<text x="0" y="0" transform="translate(749.80 539.50) scale(1 1.130)" text-anchor="end" style="font-family:'Liberation Serif',serif;font-size:15.50px;font-weight:bold;" fill="#000" stroke="#000" stroke-width="0.40">24.5</text>
<text x="0" y="0" transform="translate(749.80 414.40) scale(1 1.130)" text-anchor="end" style="font-family:'Liberation Serif',serif;font-size:15.50px;font-weight:bold;" fill="#000" stroke="#000" stroke-width="0.40">25</text>
<text x="0" y="0" transform="translate(749.80 289.30) scale(1 1.130)" text-anchor="end" style="font-family:'Liberation Serif',serif;font-size:15.50px;font-weight:bold;" fill="#000" stroke="#000" stroke-width="0.40">25.5</text>
<text x="0" y="0" transform="translate(749.80 164.20) scale(1 1.130)" text-anchor="end" style="font-family:'Liberation Serif',serif;font-size:15.50px;font-weight:bold;" fill="#000" stroke="#000" stroke-width="0.40">26</text>
<text x="0" y="0" transform="translate(749.80 39.10) scale(1 1.130)" text-anchor="end" style="font-family:'Liberation Serif',serif;font-size:15.50px;font-weight:bold;" fill="#000" stroke="#000" stroke-width="0.40">26.5</text>
<text x="0" y="0" transform="translate(851.40 684.20) scale(1 1.130)" text-anchor="middle" style="font-family:'Liberation Serif',serif;font-size:15.50px;font-weight:bold;" fill="#000" stroke="#000" stroke-width="0.40">33.5</text>
<text x="0" y="0" transform="translate(1029.10 684.20) scale(1 1.130)" text-anchor="middle" style="font-family:'Liberation Serif',serif;font-size:15.50px;font-weight:bold;" fill="#000" stroke="#000" stroke-width="0.40">34</text>
<text x="0" y="0" transform="translate(1206.80 684.20) scale(1 1.130)" text-anchor="middle" style="font-family:'Liberation Serif',serif;font-size:15.50px;font-weight:bold;" fill="#000" stroke="#000" stroke-width="0.40">34.5</text>
<text x="0" y="0" transform="translate(340.10 707.50) scale(1 1.100)" text-anchor="middle" style="font-family:'Liberation Serif',serif;font-size:18.50px;font-weight:bold;" fill="#000" stroke="#000" stroke-width="0.40">Salinity</text>
<text x="0" y="0" transform="translate(1029.00 707.50) scale(1 1.100)" text-anchor="middle" style="font-family:'Liberation Serif',serif;font-size:18.50px;font-weight:bold;" fill="#000" stroke="#000" stroke-width="0.40">Salinity</text>
<text x="0" y="0" transform="translate(14.30 346.30) rotate(-90.00) scale(1 1.080)" text-anchor="middle" style="font-family:'Liberation Serif',serif;font-size:18.80px;font-weight:bold;" fill="#000" stroke="#000" stroke-width="0.40">Potential Temperature θ [degC]</text>
<text x="0" y="0" transform="translate(705.30 344.50) rotate(-90.00) scale(1 1.080)" text-anchor="middle" style="font-family:'Liberation Serif',serif;font-size:18.80px;font-weight:bold;" fill="#000" stroke="#000" stroke-width="0.40">Potential Temperature θ [degC]</text>
<text x="0" y="0" transform="translate(189.90 381.80) scale(1 1.150)" text-anchor="middle" style="font-family:'Liberation Serif',serif;font-size:20.50px;font-weight:bold;" fill="#000" stroke="#000" stroke-width="0.40">SHW</text>
<text x="0" y="0" transform="translate(980.20 355.60) scale(1 1.150)" text-anchor="middle" style="font-family:'Liberation Serif',serif;font-size:20.50px;font-weight:bold;" fill="#000" stroke="#000" stroke-width="0.40">SCSWC</text>
<text x="0" y="0" transform="translate(1232.20 578.40) scale(1 1.150)" text-anchor="middle" style="font-family:'Liberation Serif',serif;font-size:20.50px;font-weight:bold;" fill="#000" stroke="#000" stroke-width="0.40">SCSBK</text>
<text x="0" y="0" transform="translate(504.80 186.70) rotate(-90.00) scale(1 1.150)" text-anchor="middle" style="font-family:'Liberation Serif',serif;font-size:20.50px;font-weight:bold;" fill="#000" stroke="#000" stroke-width="0.40">SCSWC</text>
<text x="0" y="0" transform="translate(577.50 343.00) rotate(-69.00) scale(1 1.150)" text-anchor="middle" style="font-family:'Liberation Serif',serif;font-size:20.50px;font-weight:bold;" fill="#000" stroke="#000" stroke-width="0.40">SCSBK</text>
<path d="M621.7,33.0 L630.0,23.5 L638.3,33.0 L638.3,659.0 L630.0,668.5 L621.7,659.0 Z" fill="url(#gA)"/>
<path d="M1311.0,33.2 L1319.2,23.7 L1327.5,33.2 L1327.5,659.0 L1319.2,668.5 L1311.0,659.0 Z" fill="url(#gB)"/>
<path d="M621.7,129.4h3M635.3,129.4h3" stroke="#333" stroke-width="1"/>
<text x="0" y="0" transform="translate(644.80 134.70) scale(1 1.120)" text-anchor="start" style="font-family:'Liberation Serif',serif;font-size:14.00px;font-weight:bold;" fill="#000" stroke="#000" stroke-width="0.40">2.5</text>
<path d="M621.7,249.8h3M635.3,249.8h3" stroke="#333" stroke-width="1"/>
<text x="0" y="0" transform="translate(644.80 255.05) scale(1 1.120)" text-anchor="start" style="font-family:'Liberation Serif',serif;font-size:14.00px;font-weight:bold;" fill="#000" stroke="#000" stroke-width="0.40">2.25</text>
<path d="M621.7,370.1h3M635.3,370.1h3" stroke="#333" stroke-width="1"/>
<text x="0" y="0" transform="translate(644.80 375.40) scale(1 1.120)" text-anchor="start" style="font-family:'Liberation Serif',serif;font-size:14.00px;font-weight:bold;" fill="#000" stroke="#000" stroke-width="0.40">2</text>
<path d="M621.7,490.4h3M635.3,490.4h3" stroke="#333" stroke-width="1"/>
<text x="0" y="0" transform="translate(644.80 495.75) scale(1 1.120)" text-anchor="start" style="font-family:'Liberation Serif',serif;font-size:14.00px;font-weight:bold;" fill="#000" stroke="#000" stroke-width="0.40">1.75</text>
<path d="M621.7,610.8h3M635.3,610.8h3" stroke="#333" stroke-width="1"/>
<text x="0" y="0" transform="translate(644.80 616.10) scale(1 1.120)" text-anchor="start" style="font-family:'Liberation Serif',serif;font-size:14.00px;font-weight:bold;" fill="#000" stroke="#000" stroke-width="0.40">1.5</text>
<path d="M1311,102.8h3M1324.5,102.8h3" stroke="#333" stroke-width="1"/>
<text x="0" y="0" transform="translate(1333.20 108.10) scale(1 1.120)" text-anchor="start" style="font-family:'Liberation Serif',serif;font-size:14.00px;font-weight:bold;" fill="#000" stroke="#000" stroke-width="0.40">2.5</text>
<path d="M1311,241.8h3M1324.5,241.8h3" stroke="#333" stroke-width="1"/>
<text x="0" y="0" transform="translate(1333.20 247.10) scale(1 1.120)" text-anchor="start" style="font-family:'Liberation Serif',serif;font-size:14.00px;font-weight:bold;" fill="#000" stroke="#000" stroke-width="0.40">2</text>
<path d="M1311,380.8h3M1324.5,380.8h3" stroke="#333" stroke-width="1"/>
<text x="0" y="0" transform="translate(1333.20 386.10) scale(1 1.120)" text-anchor="start" style="font-family:'Liberation Serif',serif;font-size:14.00px;font-weight:bold;" fill="#000" stroke="#000" stroke-width="0.40">1.5</text>
<path d="M1311,519.8h3M1324.5,519.8h3" stroke="#333" stroke-width="1"/>
<text x="0" y="0" transform="translate(1333.20 525.10) scale(1 1.120)" text-anchor="start" style="font-family:'Liberation Serif',serif;font-size:14.00px;font-weight:bold;" fill="#000" stroke="#000" stroke-width="0.40">1</text>
<path d="M1311,658.8h3M1324.5,658.8h3" stroke="#333" stroke-width="1"/>
<text x="0" y="0" transform="translate(1333.20 664.10) scale(1 1.120)" text-anchor="start" style="font-family:'Liberation Serif',serif;font-size:14.00px;font-weight:bold;" fill="#000" stroke="#000" stroke-width="0.40">0.5</text>
<text x="0" y="0" transform="translate(620.30 620.80) rotate(-90.00) scale(1 1.100)" text-anchor="middle" style="font-family:'Liberation Serif',serif;font-size:9.80px;font-weight:bold;" fill="#000" stroke="#000" stroke-width="0.40">Ocean Data View</text>
<text x="0" y="0" transform="translate(1308.60 620.80) rotate(-90.00) scale(1 1.100)" text-anchor="middle" style="font-family:'Liberation Serif',serif;font-size:9.80px;font-weight:bold;" fill="#000" stroke="#000" stroke-width="0.40">Ocean Data View</text>
<text x="0" y="0" transform="translate(1.00 23.60)" text-anchor="start" style="font-family:'Liberation Sans',serif;font-size:28.00px;font-weight:bold;" fill="#000">A</text>
<text x="0" y="0" transform="translate(685.00 23.90)" text-anchor="start" style="font-family:'Liberation Sans',serif;font-size:27.00px;font-weight:bold;" fill="#000">B</text>
</svg></body></html>
